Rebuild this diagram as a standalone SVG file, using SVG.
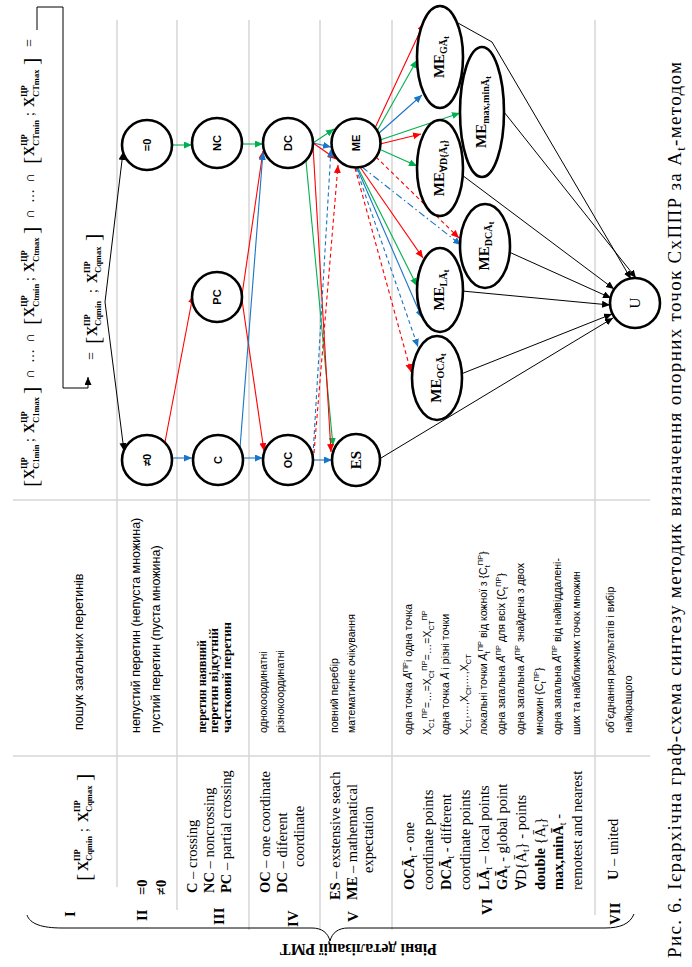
<svg xmlns="http://www.w3.org/2000/svg" width="692" height="967" viewBox="0 0 692 967">
<defs>
<marker id="ak" markerUnits="userSpaceOnUse" markerWidth="9" markerHeight="8" refX="8" refY="3.5" orient="auto"><path d="M0,0 L8,3.5 L0,7 z" fill="#000"/></marker>
<marker id="ar" markerUnits="userSpaceOnUse" markerWidth="9" markerHeight="8" refX="8" refY="3.5" orient="auto"><path d="M0,0 L8,3.5 L0,7 z" fill="#ff0000"/></marker>
<marker id="ag" markerUnits="userSpaceOnUse" markerWidth="9" markerHeight="8" refX="8" refY="3.5" orient="auto"><path d="M0,0 L8,3.5 L0,7 z" fill="#00b050"/></marker>
<marker id="ab" markerUnits="userSpaceOnUse" markerWidth="9" markerHeight="8" refX="8" refY="3.5" orient="auto"><path d="M0,0 L8,3.5 L0,7 z" fill="#1a75c4"/></marker>
</defs>
<style>
.grid{stroke:#d6d6d6;stroke-width:1.5;fill:none}
.nd{fill:#fff;stroke:#000;stroke-width:2.6}
.k{stroke:#000;stroke-width:1;fill:none;marker-end:url(#ak)}
.r{stroke:#ff0000;stroke-width:1.1;fill:none;marker-end:url(#ar)}
.g{stroke:#00b050;stroke-width:1.1;fill:none;marker-end:url(#ag)}
.b{stroke:#1a75c4;stroke-width:1.1;fill:none;marker-end:url(#ab)}
.da{stroke-dasharray:4 3}
.dd{stroke-dasharray:7 3 1.5 3}
.nl{font-family:"Liberation Sans",Arial,sans-serif;font-weight:bold;font-size:11px;text-anchor:middle}
.sl{font-family:"Liberation Serif","Times New Roman",serif;font-weight:bold;font-size:15px;text-anchor:middle}
.ser{font-family:"Liberation Serif","Times New Roman",serif}
.lv{font-family:"Liberation Serif","Times New Roman",serif;font-size:14.5px}
.rn{font-family:"Liberation Serif","Times New Roman",serif;font-size:15px;font-weight:bold}
.ds{font-family:"Liberation Sans",Arial,sans-serif;font-size:12.5px}
.d6{font-family:"Liberation Sans",Arial,sans-serif;font-size:10.5px}
.fx{font-family:"Liberation Serif","Times New Roman",serif;font-size:14px;font-weight:bold}
.fs{font-family:"Liberation Serif","Times New Roman",serif;font-size:8.5px;font-weight:bold}
.fb{font-family:"Liberation Serif","Times New Roman",serif;font-size:22px}
.fo{font-family:"Liberation Serif","Times New Roman",serif;font-size:14px}
.bo{font-weight:bold}
</style>

<g id="grid">
<line class="grid" x1="117" y1="20" x2="117" y2="887"/>
<line class="grid" x1="177" y1="20" x2="177" y2="910"/>
<line class="grid" x1="249" y1="20" x2="249" y2="930"/>
<line class="grid" x1="320" y1="20" x2="320" y2="930"/>
<line class="grid" x1="392" y1="20" x2="392" y2="930"/>
<line class="grid" x1="595" y1="20" x2="595" y2="915"/>
<line class="grid" x1="13" y1="500" x2="650" y2="500"/>
<line class="grid" x1="13" y1="756" x2="650" y2="756"/>
</g>

<g id="brace">
<path d="M27,915 C30,924 42,928 62,928 L312,928 C322,928 328,933 330,941 C332,933 338,928 348,928 L605,928 C620,928 630,924 634,914" fill="none" stroke="#000" stroke-width="1"/>
<text class="ser" font-size="16" font-weight="bold" transform="translate(437,944) rotate(180)">Рівні деталізації РМТ</text>
</g>

<g id="connectors">
<path class="k" d="M37,30 V7 H63 V388 H88 V377"/>
<path class="k" d="M105,302 L123,152"/>
<path class="k" d="M105,302 L124,451"/>
<path class="g" d="M172,145 L192,145"/>
<path class="b" d="M172,458 L192,458"/>
<path class="r" d="M165,442 L193,295"/>
<path class="g" d="M242,144 L263,144"/>
<path class="r" d="M242,295 L263,151"/>
<path class="r" d="M242,300 L264,451"/>
<path class="b" d="M240,448 L263,152"/>
<path class="b" d="M243,458 L263,458"/>
<path class="g" d="M313,143 L334,129"/>
<path class="b" d="M313,143 L331,147"/>
<path class="r" d="M313,143 L336,159"/>
<path class="g" d="M306,161 L333,446"/>
<path class="r" d="M313,146 L331,452"/>
<path class="b" d="M313,460 L332,460"/>
<path class="b da" d="M313,455 L331,149"/>
<path class="r da" d="M314,453 L338,165"/>
<path class="r" d="M375,128 L424,23"/>
<path class="g" d="M377,131 L417,60"/>
<path class="b" d="M378,134 L422,95"/>
<path class="g" d="M380,140 L460,113"/>
<path class="r" d="M380,144 L421,134"/>
<path class="g" d="M379,149 L417,166"/>
<path class="r da" d="M376,157 L459,238"/>
<path class="b dd" d="M362,167 L461,245"/>
<path class="r" d="M360,167 L423,258"/>
<path class="g" d="M358,168 L417,286"/>
<path class="b" d="M357,168 L422,318"/>
<path class="b da" d="M356,168 L418,347"/>
<path class="r da" d="M355,168 L411,372"/>
<path class="k" d="M381,458 L613,318"/>
<path class="k" d="M458,23 L492,42 L631,279"/>
<path class="k" d="M504,112 L636,278"/>
<path class="k" d="M462,175 L614,289"/>
<path class="k" d="M509,252 L611,298"/>
<path class="k" d="M462,291 L610,305"/>
<path class="k" d="M461,374 L612,314"/>
</g>

<g id="n-eq0"><circle class="nd" cx="147" cy="145" r="25"/><text class="nl" font-size="12" x="147" y="149" transform="rotate(-90 147 145)">=0</text></g>
<g id="n-ne0"><circle class="nd" cx="147" cy="460" r="25"/><text class="nl" font-size="12" x="147" y="464" transform="rotate(-90 147 460)">≠0</text></g>
<g id="n-nc"><circle class="nd" cx="217" cy="143" r="25"/><text class="nl" x="217" y="147" transform="rotate(-90 217 143)">NC</text></g>
<g id="n-pc"><circle class="nd" cx="217" cy="297" r="25"/><text class="nl" x="217" y="301" transform="rotate(-90 217 297)">PC</text></g>
<g id="n-c"><circle class="nd" cx="218" cy="460" r="25"/><text class="nl" font-size="12" x="218" y="464" transform="rotate(-90 218 460)">C</text></g>
<g id="n-dc"><circle class="nd" cx="288" cy="143" r="25"/><text class="nl" x="288" y="147" transform="rotate(-90 288 143)">DC</text></g>
<g id="n-oc"><circle class="nd" cx="288" cy="460" r="25"/><text class="nl" x="288" y="464" transform="rotate(-90 288 460)">OC</text></g>
<g id="n-me"><circle class="nd" cx="356" cy="143" r="24.5"/><text class="nl" x="356" y="147" transform="rotate(-90 356 143)">ME</text></g>
<g id="n-es"><ellipse class="nd" cx="356" cy="460" rx="24" ry="26"/><text class="sl" x="356" y="465" transform="rotate(-90 356 460)">ES</text></g>
<g id="n-mega"><ellipse class="nd" cx="440" cy="57" rx="23" ry="51"/><text class="sl" x="440" y="61" transform="rotate(-90 440 57)">ME<tspan font-size="10" dy="3">GĀ</tspan><tspan font-size="9" dy="2">t</tspan></text></g>
<g id="n-memax"><ellipse class="nd" cx="482" cy="112" rx="22" ry="65"/><text class="sl" x="482" y="116" transform="rotate(-90 482 112)">ME<tspan font-size="10" dy="3">max,minĀ</tspan><tspan font-size="9" dy="2">t</tspan></text></g>
<g id="n-mevd"><ellipse class="nd" cx="440" cy="168" rx="23" ry="48"/><text class="sl" x="440" y="172" transform="rotate(-90 440 168)">ME<tspan font-size="10" dy="3">∀D{Ā</tspan><tspan font-size="9" dy="2">t</tspan><tspan font-size="10" dy="-2">}</tspan></text></g>
<g id="n-medc"><ellipse class="nd" cx="485" cy="246" rx="25" ry="42"/><text class="sl" x="485" y="250" transform="rotate(-90 485 246)">ME<tspan font-size="10" dy="3">DCĀ</tspan><tspan font-size="9" dy="2">t</tspan></text></g>
<g id="n-mela"><ellipse class="nd" cx="440" cy="290" rx="23" ry="42"/><text class="sl" x="440" y="294" transform="rotate(-90 440 290)">ME<tspan font-size="10" dy="3">LĀ</tspan><tspan font-size="9" dy="2">t</tspan></text></g>
<g id="n-meoc"><ellipse class="nd" cx="437" cy="378" rx="25" ry="42"/><text class="sl" x="437" y="382" transform="rotate(-90 437 378)">ME<tspan font-size="10" dy="3">OCĀ</tspan><tspan font-size="9" dy="2">t</tspan></text></g>
<g id="n-u"><circle class="nd" cx="635" cy="303" r="25"/><text class="ser" font-size="15" text-anchor="middle" x="635" y="308" transform="rotate(-90 635 303)">U</text></g>

<g id="texts" transform="translate(0,967) rotate(-90)">
<g id="formula-top">
<text class="fb" x="480" y="38">[</text>
<text class="fx" x="488" y="34">X</text><text class="fs" x="498" y="27">ЦР</text><text class="fs" x="498" y="39">C1min</text>
<text class="fo" x="525" y="34">;</text>
<text class="fx" x="534" y="34">X</text><text class="fs" x="544" y="27">ЦР</text><text class="fs" x="544" y="39">C1max</text>
<text class="fb" x="573" y="38">]</text>
<text class="fo" x="588" y="34">∩</text><text class="fo" x="604" y="34">…</text><text class="fo" x="624" y="34">∩</text>
<text class="fb" x="642" y="38">[</text>
<text class="fx" x="650" y="34">X</text><text class="fs" x="660" y="27">ЦР</text><text class="fs" x="660" y="39">Ctmin</text>
<text class="fo" x="686" y="34">;</text>
<text class="fx" x="695" y="34">X</text><text class="fs" x="705" y="27">ЦР</text><text class="fs" x="705" y="39">Ctmax</text>
<text class="fb" x="733" y="38">]</text>
<text class="fo" x="748" y="34">∩</text><text class="fo" x="764" y="34">…</text><text class="fo" x="784" y="34">∩</text>
<text class="fb" x="803" y="38">[</text>
<text class="fx" x="811" y="34">X</text><text class="fs" x="821" y="27">ЦР</text><text class="fs" x="821" y="39">CTmin</text>
<text class="fo" x="851" y="34">;</text>
<text class="fx" x="860" y="34">X</text><text class="fs" x="870" y="27">ЦР</text><text class="fs" x="870" y="39">CTmax</text>
<text class="fb" x="902" y="38">]</text>
<text class="fo" x="920" y="34">=</text>
</g>
<g id="formula-q">
<text class="fo" x="607" y="96">=</text>
<text class="fb" x="623" y="100">[</text>
<text class="fx" x="631" y="97">X</text><text class="fs" x="641" y="90">ПР</text><text class="fs" x="641" y="101">Cqmin</text>
<text class="fo" x="674" y="97">;</text>
<text class="fx" x="684" y="97">X</text><text class="fs" x="694" y="90">ПР</text><text class="fs" x="694" y="101">Cqmax</text>
<text class="fb" x="726" y="100">]</text>
</g>

<text class="rn" x="50" y="75">I</text>
<text class="fb" x="86" y="91">[</text>
<text class="fx" x="96" y="88">X</text><text class="fs" x="106" y="80">ПР</text><text class="fs" x="106" y="92">Cqmin</text>
<text class="fo" x="135" y="88">;</text>
<text class="fx" x="145" y="88">X</text><text class="fs" x="155" y="80">ПР</text><text class="fs" x="155" y="92">Cqmax</text>
<text class="fb" x="186" y="91">]</text>

<text class="rn" x="46" y="147">II</text>
<text class="lv bo" x="72" y="147">=0</text>
<text class="lv bo" x="72" y="166">≠0</text>

<text class="rn" x="42" y="224">III</text>
<text class="lv" x="74" y="197"><tspan class="bo">C</tspan> – crossing</text>
<text class="lv" x="74" y="214"><tspan class="bo">NC</tspan> – noncrossing</text>
<text class="lv" x="74" y="231"><tspan class="bo">PC</tspan> – partial crossing</text>

<text class="rn" x="40" y="298">IV</text>
<text class="lv" x="74" y="270"><tspan class="bo">OC</tspan> – one coordinate</text>
<text class="lv" x="74" y="287"><tspan class="bo">DC</tspan> – diferent</text>
<text class="lv" x="100" y="304">coordinate</text>

<text class="rn" x="45" y="358">V</text>
<text class="lv" x="67" y="340"><tspan class="bo">ES</tspan> – exstensive seach</text>
<text class="lv" x="67" y="357"><tspan class="bo">ME</tspan> – mathematical</text>
<text class="lv" x="94" y="373">expectation</text>

<text class="rn" x="52" y="492">VI</text>
<text class="lv" x="77" y="414"><tspan class="bo">OCĀ</tspan><tspan font-size="10" dy="3">t</tspan><tspan dy="-3"> - one</tspan></text>
<text class="lv" x="77" y="433">coordinate points</text>
<text class="lv" x="77" y="451"><tspan class="bo">DCĀ</tspan><tspan font-size="10" dy="3">t</tspan><tspan dy="-3"> - different</tspan></text>
<text class="lv" x="77" y="470">coordinate points</text>
<text class="lv" x="77" y="489"><tspan class="bo">LĀ</tspan><tspan font-size="10" dy="3">t</tspan><tspan dy="-3"> – local points</tspan></text>
<text class="lv" x="77" y="507"><tspan class="bo">GĀ</tspan><tspan font-size="10" dy="3">t</tspan><tspan dy="-3"> - global point</tspan></text>
<text class="lv" x="77" y="526">∀D{Ā<tspan font-size="10" dy="3">t</tspan><tspan dy="-3">} - points</tspan></text>
<text class="lv" x="77" y="545"><tspan class="bo">double</tspan> {Ā<tspan font-size="10" dy="3">t</tspan><tspan dy="-3">}</tspan></text>
<text class="lv" x="77" y="563"><tspan class="bo">max,minĀ</tspan><tspan font-size="10" dy="3">t</tspan><tspan dy="-3"> -</tspan></text>
<text class="lv" x="77" y="582">remotest and nearest</text>

<text class="rn" x="42" y="620">VII</text>
<text class="lv" x="87" y="618"><tspan class="bo">U</tspan> – united</text>

<text class="ds" x="237" y="83">пошук загальних перетинів</text>
<text class="ds" x="234" y="140">непустий перетин (непуста множина)</text>
<text class="ds" x="234" y="160">пустий перетин (пуста множина)</text>
<text class="ser bo" font-size="11.5" x="234" y="206" textLength="93" lengthAdjust="spacingAndGlyphs">перетин наявний</text>
<text class="ser bo" font-size="11.5" x="234" y="218" textLength="105" lengthAdjust="spacingAndGlyphs">перетин відсутній</text>
<text class="ser bo" font-size="11.5" x="234" y="231" textLength="111" lengthAdjust="spacingAndGlyphs">частковий перетин</text>
<text class="d6" font-size="11.5" x="234" y="267">однокоординатні</text>
<text class="d6" font-size="11.5" x="234" y="284">різнокоординатні</text>
<text class="d6" x="234" y="338">повний перебір</text>
<text class="d6" x="234" y="355">математичне очікування</text>

<text class="d6" x="232" y="412">одна точка <tspan font-style="italic">Ā</tspan><tspan font-size="7.5" dy="-4">ПР</tspan><tspan dy="4">і одна точка</tspan></text>
<text class="d6" x="232" y="431">X<tspan font-size="7.5" dy="3">C1</tspan><tspan font-size="7.5" dy="-7">ПР</tspan><tspan dy="4">=…=X</tspan><tspan font-size="7.5" dy="3">Ct</tspan><tspan font-size="7.5" dy="-7">ПР</tspan><tspan dy="4">=…=X</tspan><tspan font-size="7.5" dy="3">CT</tspan><tspan font-size="7.5" dy="-7">ПР</tspan></text>
<text class="d6" x="232" y="449">одна точка <tspan font-style="italic">Ā</tspan> і різні точки</text>
<text class="d6" x="232" y="468">X<tspan font-size="7.5" dy="3">C1</tspan><tspan dy="-3">,…,X</tspan><tspan font-size="7.5" dy="3">Ct</tspan><tspan dy="-3">,…,X</tspan><tspan font-size="7.5" dy="3">CT</tspan></text>
<text class="d6" x="232" y="487">локальні точки <tspan font-style="italic">Ā</tspan><tspan font-size="7.5" dy="3">t</tspan><tspan font-size="7.5" dy="-7">ПР</tspan><tspan dy="4"> від кожної з {C</tspan><tspan font-size="7.5" dy="3">t</tspan><tspan font-size="7.5" dy="-7">ПР</tspan><tspan dy="4">}</tspan></text>
<text class="d6" x="232" y="505">одна загальна <tspan font-style="italic">Ā</tspan><tspan font-size="7.5" dy="-4">ПР</tspan><tspan dy="4"> для всіх {C</tspan><tspan font-size="7.5" dy="3">t</tspan><tspan font-size="7.5" dy="-7">ПР</tspan><tspan dy="4">}</tspan></text>
<text class="d6" x="232" y="524">одна загальна <tspan font-style="italic">Ā</tspan><tspan font-size="7.5" dy="-4">ПР</tspan><tspan dy="4">  знайдена з двох</tspan></text>
<text class="d6" x="232" y="543">множин {C<tspan font-size="7.5" dy="3">t</tspan><tspan font-size="7.5" dy="-7">ПР</tspan><tspan dy="4">}</tspan></text>
<text class="d6" x="232" y="561">одна загальна <tspan font-style="italic">Ā</tspan><tspan font-size="7.5" dy="-4">ПР</tspan><tspan dy="4"> від найвіддалені-</tspan></text>
<text class="d6" x="232" y="580">ших та найближчих точок множин</text>

<text class="d6" font-size="11" x="234" y="614">об’єднання результатів і вибір</text>
<text class="d6" font-size="11" x="234" y="632">найкращого</text>

<text class="ser" font-size="19" x="9" y="681" textLength="896" lengthAdjust="spacing">Рис. 6. Ієрархічна граф-схема синтезу методик визначення опорних точок СхППР за A<tspan font-size="12.5" dy="4">t</tspan><tspan dy="-4">-методом</tspan></text>
</g>
</svg>
